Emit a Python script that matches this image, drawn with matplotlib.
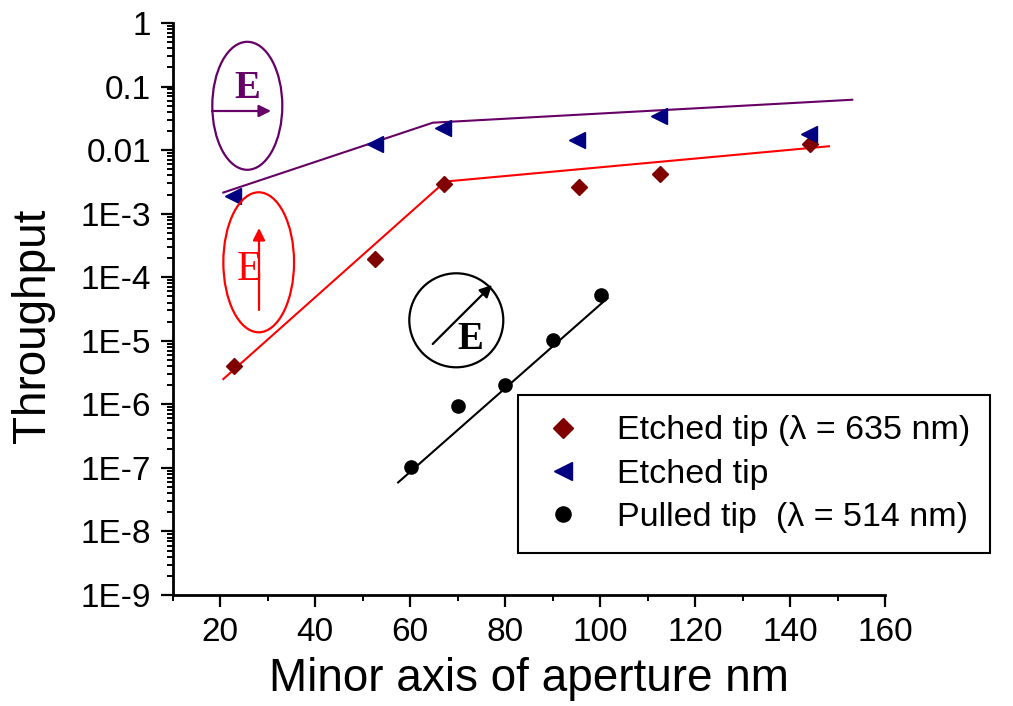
import matplotlib
matplotlib.use("Agg")
import matplotlib.pyplot as plt
from matplotlib.patches import Ellipse
from matplotlib.ticker import FixedLocator, FixedFormatter, MultipleLocator, LogLocator, NullFormatter

plt.rcParams['font.family'] = ['Liberation Sans', 'DejaVu Sans']

# ---------------- data ----------------
etched635_x = [23.0, 52.6, 67.2, 95.6, 112.6, 144.2]
etched635_y = [4.0e-6, 1.95e-4, 2.9e-3, 2.6e-3, 4.2e-3, 1.25e-2]

etched_x = [22.7, 52.6, 66.9, 95.2, 112.4, 144.0]
etched_y = [1.9e-3, 1.25e-2, 2.2e-2, 1.45e-2, 3.4e-2, 1.8e-2]

pulled_x = [60.2, 70.0, 80.0, 90.0, 100.2]
pulled_y = [1.05e-7, 9.3e-7, 2.0e-6, 1.04e-5, 5.2e-5]

# fitted guide lines (endpoints / break points)
fit_red_x = [20.7, 67.4, 148.2]
fit_red_y = [2.5e-6, 3.2e-3, 1.15e-2]
fit_purple_x = [20.7, 64.8, 153.1]
fit_purple_y = [2.15e-3, 2.7e-2, 6.2e-2]
fit_black_x = [57.5, 101.6]
fit_black_y = [5.9e-8, 4.7e-5]

ytick_vals = [1, 0.1, 0.01, 1e-3, 1e-4, 1e-5, 1e-6, 1e-7, 1e-8, 1e-9]
ytick_labels = ["1", "0.1", "0.01", "1E-3", "1E-4", "1E-5", "1E-6", "1E-7", "1E-8", "1E-9"]
xtick_vals = [20, 40, 60, 80, 100, 120, 140, 160]

labels = ["Etched tip (\u03bb = 635 nm)", "Etched tip", "Pulled tip  (\u03bb = 514 nm)"]

# ---------------- figure ----------------
W, H = 1013, 706
fig = plt.figure(figsize=(W / 100, H / 100), dpi=100)
L, R, T, B = 172.5, 885.0, 23.0, 595.0
ax = fig.add_axes([L / W, 1 - B / H, (R - L) / W, (B - T) / H])

ax.set_yscale('log')
ax.set_xlim(10, 160)
ax.set_ylim(1e-9, 1)

red = '#ff0000'
purple = '#660066'
maroon = '#800000'
navy = '#000080'

ax.plot(fit_red_x, fit_red_y, color=red, lw=1.5, zorder=2)
ax.plot(fit_purple_x, fit_purple_y, color=purple, lw=1.5, zorder=2)
ax.plot(fit_black_x, fit_black_y, color='black', lw=1.5, zorder=2)

h1, = ax.plot(etched635_x, etched635_y, ls='none', marker='D', ms=8.5, color=maroon, mec=maroon, zorder=3)
h2, = ax.plot(etched_x, etched_y, ls='none', marker='<', ms=11, color=navy, mec=navy, zorder=3)
h3, = ax.plot(pulled_x, pulled_y, ls='none', marker='o', ms=9.5, color='black', zorder=3)

# spines / ticks
for s in ['top', 'right']:
    ax.spines[s].set_visible(False)
for s in ['left', 'bottom']:
    ax.spines[s].set_linewidth(2.0)

ax.yaxis.set_major_locator(FixedLocator(ytick_vals))
ax.yaxis.set_major_formatter(FixedFormatter(ytick_labels))
ax.yaxis.set_minor_locator(LogLocator(base=10, subs=[2, 3, 4, 5, 6, 7, 8, 9], numticks=20))
ax.yaxis.set_minor_formatter(NullFormatter())
ax.xaxis.set_major_locator(FixedLocator(xtick_vals))
ax.xaxis.set_minor_locator(MultipleLocator(10))

ax.tick_params(which='major', direction='out', length=8.5, width=1.6, labelsize=24, pad=7)
ax.tick_params(which='minor', direction='out', length=4.5, width=1.4)

ax.set_xlabel("Minor axis of aperture nm", fontsize=33)
ax.set_ylabel("Throughput", fontsize=33)
ax.xaxis.set_label_coords(0.5, (B - 657) / (B - T))
ax.yaxis.set_label_coords((55 - L) / (R - L), (B - 326) / (B - T))

# ---------------- annotations (axes-fraction helpers) ----------------
def fx(px):
    return (px - L) / (R - L)

def fy(py):
    return (B - py) / (B - T)

def ellipse(cx, cy, w, h, col):
    e = Ellipse((fx(cx), fy(cy)), w / (R - L), h / (B - T), transform=ax.transAxes,
                fill=False, edgecolor=col, lw=1.6, clip_on=False, zorder=4)
    ax.add_patch(e)

def arrow(x0, y0, x1, y1, col):
    ax.annotate('', xy=(fx(x1), fy(y1)), xytext=(fx(x0), fy(y0)), xycoords='axes fraction',
                textcoords='axes fraction',
                arrowprops=dict(arrowstyle='-|>', color=col, lw=1.6, mutation_scale=18,
                                shrinkA=0, shrinkB=0), zorder=4)

serif = ['Liberation Serif', 'DejaVu Serif']
ellipse(247.3, 105.8, 70, 128, purple)
arrow(212, 111, 271, 111, purple)
ax.text(fx(247.5), fy(88), 'E', transform=ax.transAxes, color=purple, fontsize=28,
        fontweight='bold', family=serif, ha='center', va='center', zorder=5)

ellipse(258.7, 262.3, 70.7, 140, red)
arrow(259, 310, 259, 228, red)
ax.text(fx(249), fy(270), 'E', transform=ax.transAxes, color=red, fontsize=30,
        family=serif, ha='center', va='center', zorder=5)

ellipse(456.3, 320.3, 94, 94, 'black')
arrow(432.7, 344, 492, 285, 'black')
ax.text(fx(470), fy(340), 'E', transform=ax.transAxes, color='black', fontsize=28,
        fontweight='bold', family=serif, ha='center', va='center', zorder=5)

# ---------------- legend ----------------
leg = ax.legend([h1, h2, h3], labels, loc='upper left',
                bbox_to_anchor=(fx(518), fy(395)), bbox_transform=ax.transAxes,
                borderaxespad=0, fontsize=24.5, frameon=True, fancybox=False, framealpha=1,
                edgecolor='black', borderpad=0.6, labelspacing=0.36, handlelength=1.45,
                handletextpad=0.85, numpoints=1, markerscale=1.15)
leg.get_frame().set_linewidth(1.5)

fig.savefig('out.png', dpi=100)
